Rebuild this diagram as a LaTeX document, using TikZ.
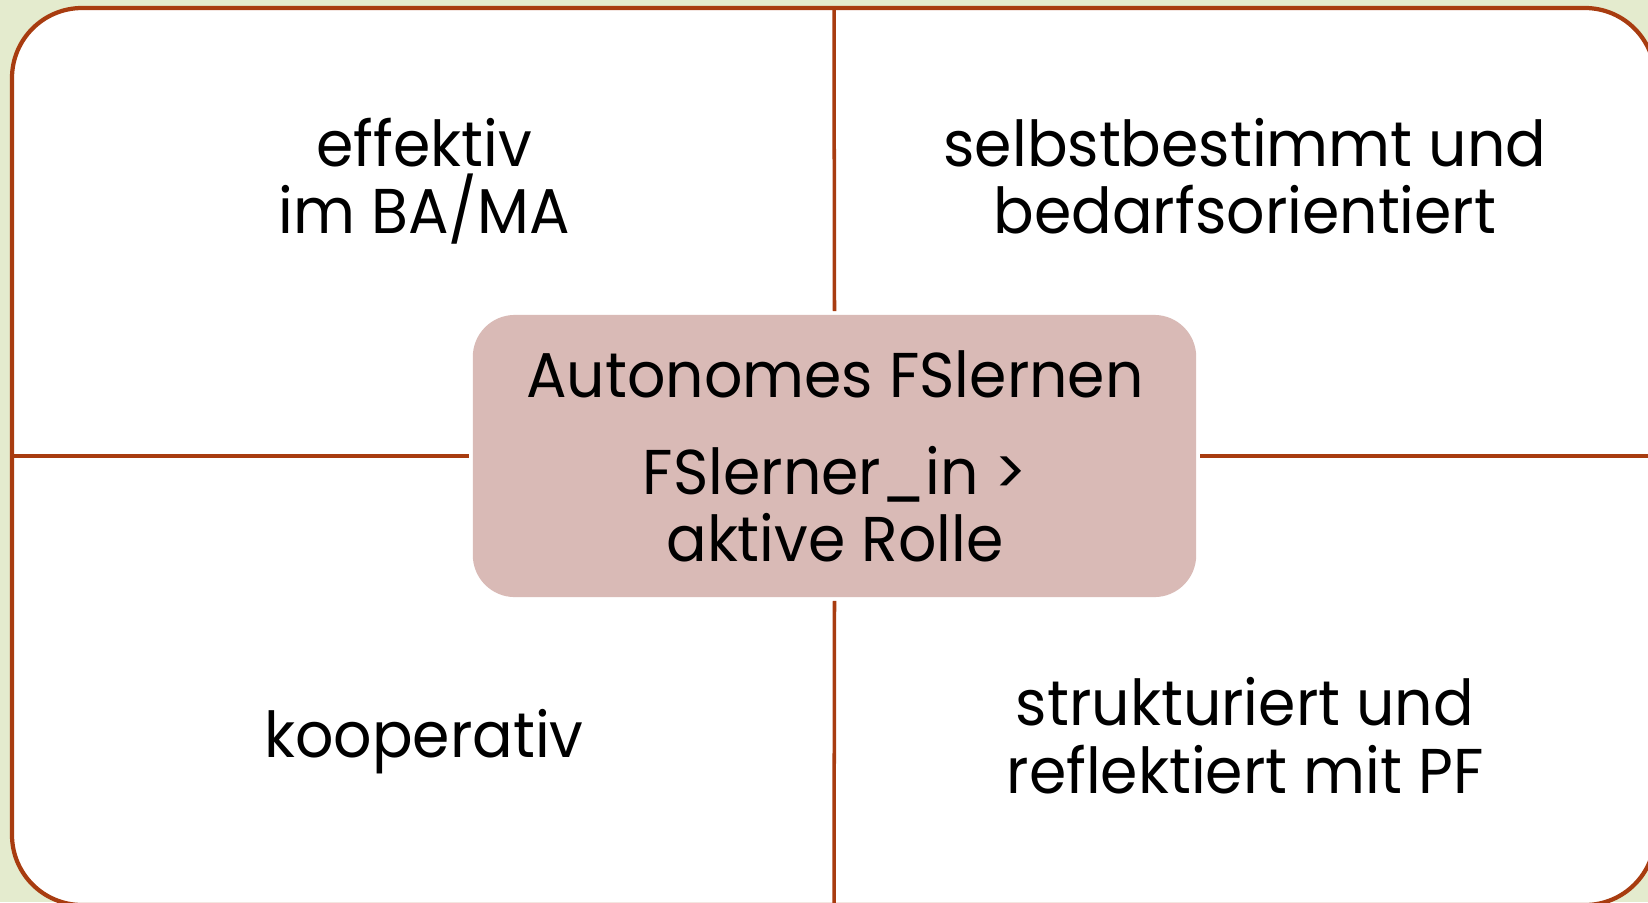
\documentclass[tikz,border=0pt]{standalone}
\usepackage{fontspec}
\setmainfont[FakeStretch=0.95]{Poppins}
\definecolor{rim}{HTML}{A83C10}
\definecolor{paper}{HTML}{E4EBCE}
\definecolor{hub}{HTML}{D9BAB6}
\tikzset{
  quad/.style={font=\fontsize{18}{19}\selectfont, anchor=base, inner sep=0pt},
  hubbox/.style={fill=hub, rounded corners=0.42cm, minimum width=7.23cm,
    minimum height=2.82cm, outer sep=1.1pt},
  divider/.style={draw=rim, line width=1pt}
}
\begin{document}
\begin{tikzpicture}[x=0.01cm, y=-0.01cm]
  \useasboundingbox (0,0) rectangle (1648,902);
  \fill[paper] (0,0) rectangle (1648,902);
  \clip (0,0) rectangle (1648,902);
  \draw[rim, line width=1.2pt, fill=white, rounded corners=0.7cm] (12,8) rectangle (1655,905);

  % centre box
  \node[hubbox] (hub) at (834.5,456) {};
  \node[quad] (hubtitle) at (835,397) {Autonomes FSlernen};
  \node[quad] (hubrole)  at (835,494) {FSlerner\_in >};
  \node[quad] (hubrolb)  at (835,561) {aktive Rolle};

  % ends of the dividers
  \coordinate (top)    at (834,8);
  \coordinate (bottom) at (834,905);
  \coordinate (left)   at (12,456);
  \coordinate (right)  at (1655,456);

  \path[divider] (hub.north) edge (top)
                 (hub.south) edge (bottom)
                 (hub.west)  edge (left)
                 (hub.east)  edge (right);

  % quadrants
  \node[quad] (effa) at (424,166) {effektiv};
  \node[quad] (effb) at (424,233) {im BA/MA};
  \node[quad] (selfa) at (1245,166) {selbstbestimmt und};
  \node[quad] (selfb) at (1245,233) {bedarfsorientiert};
  \node[quad] (coop) at (424,757) {kooperativ};
  \node[quad] (struca) at (1245,725) {strukturiert und};
  \node[quad] (strucb) at (1245,793) {reflektiert mit PF};
\end{tikzpicture}
\end{document}
